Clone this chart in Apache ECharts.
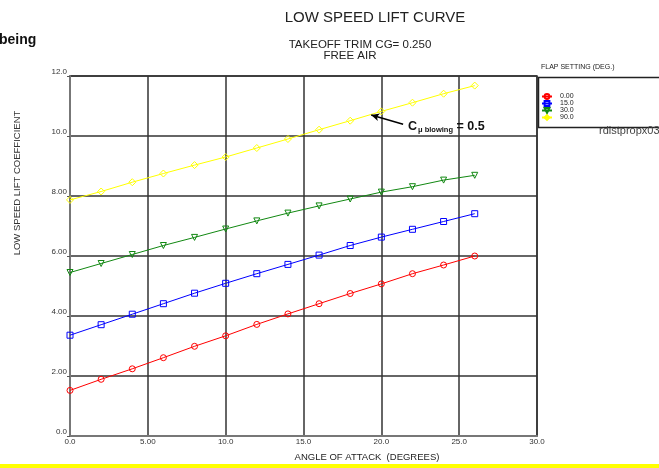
<!DOCTYPE html>
<html>
<head>
<meta charset="utf-8">
<script src="https://cdn.jsdelivr.net/npm/echarts@6/dist/echarts.min.js"></script>
<style>
  html, body { margin: 0; padding: 0; background: #fff; }
  #chart { width: 659px; height: 468px; }
</style>
</head>
<body>
<div id="chart"></div>
<script>
// Angle of attack (degrees) at which each flap setting was evaluated
const alpha = [0, 2, 4, 6, 8, 10, 12, 14, 16, 18, 20, 22, 24, 26];

// Low speed lift coefficient per flap setting
const flap000 = [1.52, 1.89, 2.24, 2.61, 2.99, 3.34, 3.72, 4.07, 4.41, 4.75, 5.07, 5.41, 5.70, 6.00];
const flap150 = [3.36, 3.71, 4.06, 4.41, 4.76, 5.09, 5.41, 5.72, 6.03, 6.35, 6.63, 6.89, 7.15, 7.41];
const flap300 = [5.45, 5.75, 6.05, 6.35, 6.62, 6.90, 7.17, 7.43, 7.67, 7.90, 8.13, 8.31, 8.53, 8.69];
const flap900 = [7.87, 8.15, 8.46, 8.75, 9.03, 9.30, 9.60, 9.90, 10.21, 10.51, 10.82, 11.11, 11.41, 11.68];

const flapNames = ['0.00', '15.0', '30.0', '90.0'];

// Axis tick labels as printed
const xTickLabels = { 0: '0.0', 5: '5.00', 10: '10.0', 15: '15.0', 20: '20.0', 25: '25.0', 30: '30.0' };
const yTickLabels = { 0: '0.0', 2: '2.00', 4: '4.00', 6: '6.00', 8: '8.00', 10: '10.0', 12: '12.0' };

// Arrow pointing at the blowing curve (data coordinates: tail, head)
const arrowTail = [21.4, 10.39];
const arrowHead = [19.35, 10.7];

const narrow = "'Liberation Sans Narrow', 'Liberation Sans', Arial, sans-serif";
const sans = "'Liberation Sans', Arial, sans-serif";

const pairs = (ys) => alpha.map((a, i) => [a, ys[i]]);

const lineSeries = (name, ys, color, symbol, size, rotate) => ({
  name: name,
  type: 'line',
  data: pairs(ys),
  symbol: symbol,
  symbolSize: size,
  symbolRotate: rotate || 0,
  showAllSymbol: true,
  lineStyle: { color: color, width: 1 },
  itemStyle: { color: 'rgba(255,255,255,0)', borderColor: color, borderWidth: 1 },
  emphasis: { disabled: true },
  animation: false,
  z: 3
});

const chart = echarts.init(document.getElementById('chart'), null, { renderer: 'canvas' });

const series = [
  lineSeries(flapNames[0], flap000, '#ff0000', 'circle', 6),
  lineSeries(flapNames[1], flap150, '#0000ff', 'rect', 6),
  lineSeries(flapNames[2], flap300, '#118811', 'triangle', 6, 180),
  lineSeries(flapNames[3], flap900, '#ffff00', 'diamond', 7)
];
series[3].markLine = {
  silent: true,
  symbol: ['none', 'arrow'],
  symbolSize: [6, 8],
  label: { show: false },
  lineStyle: { color: '#000', width: 1.5, type: 'solid' },
  data: [[{ coord: arrowTail }, { coord: arrowHead }]],
  animation: false
};

chart.setOption({
  animation: false,
  backgroundColor: '#fff',
  title: [
    { text: 'LOW SPEED LIFT CURVE', left: 370, top: 5, textAlign: 'center',
      textStyle: { fontFamily: sans, fontSize: 15, fontWeight: 'normal', color: '#222' } },
    { text: 'TAKEOFF TRIM CG= 0.250', left: 355, top: 34, textAlign: 'center',
      textStyle: { fontFamily: sans, fontSize: 11.5, fontWeight: 'normal', color: '#222' } },
    { text: 'FREE AIR', left: 345, top: 45, textAlign: 'center',
      textStyle: { fontFamily: sans, fontSize: 11.5, fontWeight: 'normal', color: '#222' } }
  ],
  grid: {
    left: 70, top: 76, width: 467, height: 360,
    show: true, borderColor: '#333', borderWidth: 1.5, backgroundColor: 'transparent'
  },
  xAxis: {
    type: 'value', min: 0, max: 30, interval: 5,
    axisLine: { show: true, lineStyle: { color: '#777', width: 2 } },
    axisTick: { show: false },
    axisLabel: { margin: 2, fontFamily: narrow, fontSize: 8, color: '#333',
      formatter: (v) => xTickLabels[v] || '' },
    splitLine: { show: true, lineStyle: { color: '#333', width: 1.5 } }
  },
  yAxis: {
    type: 'value', min: 0, max: 12, interval: 2,
    axisLine: { show: true, lineStyle: { color: '#777', width: 2 } },
    axisTick: { show: true, length: 3, lineStyle: { color: '#555' } },
    axisLabel: { margin: 3, fontFamily: narrow, fontSize: 8, color: '#333', verticalAlign: 'bottom',
      formatter: (v) => yTickLabels[v] || '' },
    splitLine: { show: true, lineStyle: { color: '#333', width: 1.5 } }
  },
  legend: {
    orient: 'vertical',
    left: 541, top: 93,
    itemGap: 0, itemWidth: 10, itemHeight: 6,
    padding: 0,
    textStyle: { fontFamily: narrow, fontSize: 7, color: '#222', padding: [0, 0, 0, 3] },
    data: flapNames,
    selectedMode: false
  },
  graphic: [
    { type: 'text', left: -1, top: 33,
      style: { text: 'being', fontFamily: sans, fontSize: 14, fontWeight: 'bold', fill: '#111' } },
    { type: 'text', x: 17, y: 183, rotation: Math.PI / 2,
      style: { text: 'LOW SPEED LIFT COEFFICIENT', fontFamily: sans, fontSize: 9.5, fill: '#333',
        align: 'center', verticalAlign: 'middle' } },
    { type: 'text', x: 367, y: 457,
      style: { text: 'ANGLE OF ATTACK  (DEGREES)', fontFamily: sans, fontSize: 9.5, fill: '#222',
        align: 'center', verticalAlign: 'middle' } },
    { type: 'text', left: 541, top: 64,
      style: { text: 'FLAP SETTING (DEG.)', fontFamily: narrow, fontSize: 7, fill: '#222' } },
    { type: 'rect', shape: { x: 538.5, y: 77.5, width: 130, height: 50 },
      style: { fill: 'none', stroke: '#222', lineWidth: 1.5 } },
    { type: 'text', left: 599, top: 125,
      style: { text: 'rdistpropx03', fontFamily: sans, fontSize: 11, fill: '#444' } },
    { type: 'text', left: 408, top: 120, z: 10,
      style: {
        text: '{c|C}{s|μ blowing}{e| = 0.5}',
        rich: {
          c: { fontFamily: sans, fontSize: 12.5, fontWeight: 'bold', fill: '#111' },
          s: { fontFamily: sans, fontSize: 7.5, fontWeight: 'bold', fill: '#111', verticalAlign: 'bottom', padding: [6, 0, 0, 1] },
          e: { fontFamily: sans, fontSize: 12.5, fontWeight: 'bold', fill: '#111' }
        }
      } },
    { type: 'rect', shape: { x: 0, y: 464, width: 659, height: 4 },
      style: { fill: '#ffff00' } }
  ],
  series: series
});
</script>
</body>
</html>
